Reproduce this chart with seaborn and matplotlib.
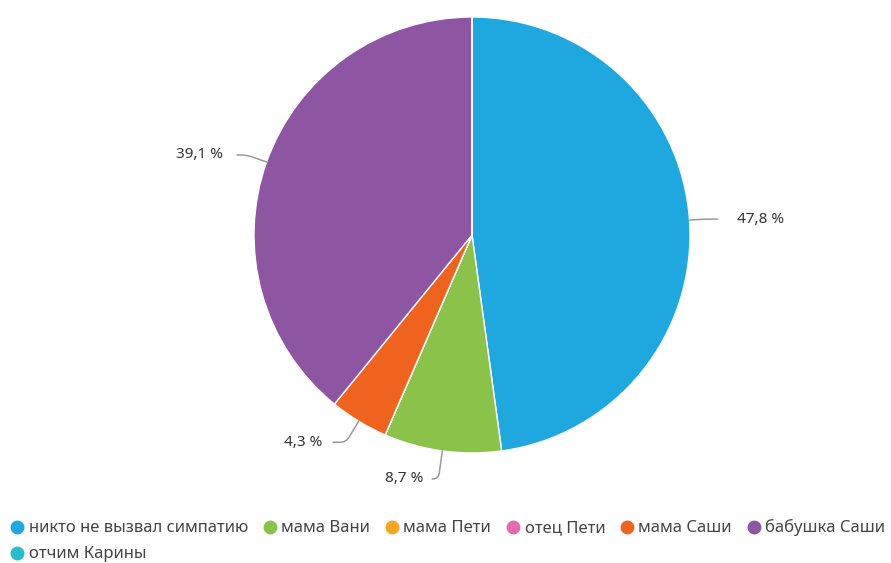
import numpy as np
import matplotlib
matplotlib.use("Agg")
import matplotlib.pyplot as plt
from matplotlib.lines import Line2D
import seaborn as sns

# Responses: who the respondents felt sympathy for (counts)
categories = ["никто не вызвал симпатию", "мама Вани", "мама Пети", "отец Пети",
              "мама Саши", "бабушка Саши", "отчим Карины"]
counts = [11, 2, 0, 0, 1, 9, 0]
colors = ["#1fa8e0", "#8bc34a", "#f6a623", "#e56bae", "#f0631f", "#8e55a2", "#24bfcf"]

sns.set_theme(style="white")
plt.rcParams["font.family"] = ["Noto Sans", "DejaVu Sans"]

W, H = 891, 563
fig = plt.figure(figsize=(W / 100, H / 100), dpi=100)

R_PX = 218
cx, cy = 472, 235
half = 1.1 * R_PX
ax = fig.add_axes([(cx - half) / W, (H - cy - half) / H, 2 * half / W, 2 * half / H])

wedges, _ = ax.pie(counts, colors=colors, startangle=90, counterclock=False,
                   radius=1.0, wedgeprops=dict(edgecolor="white", linewidth=1.0))
ax.set_xlim(-1.1, 1.1)
ax.set_ylim(-1.1, 1.1)
ax.set_aspect("equal")
ax.axis("off")

total = sum(counts)
# label offsets (pixels from the wedge edge) and gap between leader and text
label_offsets = {0: (48, 1, 12), 1: (-19, -28, 4), 4: (-36, -21, 5), 5: (-44, 7, 8)}
for i, (w, c) in enumerate(zip(wedges, counts)):
    if c == 0:
        continue
    ang = np.deg2rad((w.theta1 + w.theta2) / 2)
    x, y = np.cos(ang), np.sin(ang)
    dx, dy, gap = label_offsets[i]
    pct = f"{100 * c / total:.1f}".replace(".", ",") + " %"
    ax.annotate(pct, xy=(x, y), xytext=(dx, dy), textcoords="offset pixels",
                ha="left" if dx > 0 else "right", va="center",
                fontsize=11, color="#333333", annotation_clip=False,
                arrowprops=dict(arrowstyle="-", color="#9a9a9a", lw=1.1,
                                shrinkA=gap, shrinkB=0,
                                connectionstyle=f"angle,angleA=0,angleB={np.rad2deg(ang):.1f},rad=6"))

handles = [Line2D([], [], linestyle="none", marker="o", markersize=9,
                  markerfacecolor=col, markeredgecolor=col) for col in colors]
# column-major fill: first column holds the first and last entries
order = [0, 6, 1, 2, 3, 4, 5]
leg = fig.legend([handles[i] for i in order], [categories[i] for i in order],
                 ncol=6, loc="lower left", bbox_to_anchor=(12 / W, 0.5 / H),
                 frameon=False, fontsize=12, handlelength=0.6, handletextpad=0.4,
                 columnspacing=1.0, labelspacing=0.6, borderaxespad=0.0,
                 borderpad=0.0)
for t in leg.get_texts():
    t.set_color("#444444")

fig.savefig("out.png", dpi=100)
